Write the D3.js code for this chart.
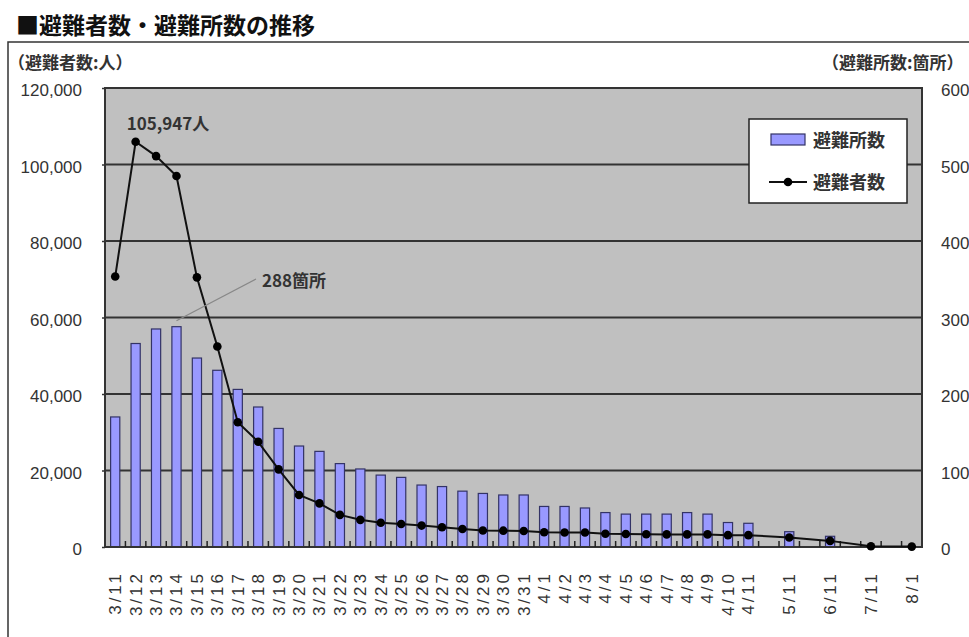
<!DOCTYPE html>
<html lang="ja">
<head>
<meta charset="UTF-8">
<title>避難者数・避難所数の推移</title>
<script src="https://d3js.org/d3.v7.min.js"></script>
<style>
    body { margin: 0; padding: 0; background: #fff; }
    svg { display: block; }
    text { font-family: "Liberation Sans", "Noto Sans CJK JP", sans-serif; fill: #222; }
    .jp { font-family: "Noto Sans CJK JP", sans-serif; }
</style>
</head>
<body>
<svg id="chart" width="969" height="637"></svg>
<script>
    // categories ("" = empty slot on the axis)
    const dates = ["3/11", "3/12", "3/13", "3/14", "3/15", "3/16", "3/17", "3/18", "3/19", "3/20",
        "3/21", "3/22", "3/23", "3/24", "3/25", "3/26", "3/27", "3/28", "3/29", "3/30", "3/31",
        "4/1", "4/2", "4/3", "4/4", "4/5", "4/6", "4/7", "4/8", "4/9", "4/10", "4/11",
        "", "5/11", "", "6/11", "", "7/11", "", "8/1"];

    // 避難所数 (箇所)
    const shelters = [170, 266, 285, 288, 247, 231, 206, 183, 155, 132,
        125, 109, 102, 94, 91, 81, 79, 73, 70, 68, 68,
        53, 53, 51, 45, 43, 43, 43, 45, 43, 32, 31,
        null, 20, null, 14, null, 0, null, 0];

    // 避難者数 (人)
    const evacuees = [70700, 105947, 102200, 97000, 70500, 52400, 32600, 27500, 20300, 13600,
        11400, 8400, 7100, 6350, 6000, 5600, 5150, 4700, 4300, 4270, 4200,
        3850, 3800, 3800, 3450, 3400, 3350, 3300, 3300, 3300, 3100, 3100,
        null, 2500, null, 1600, null, 200, null, 100];

    const leftTicks = [0, 20000, 40000, 60000, 80000, 100000, 120000];
    const rightTicks = [0, 100, 200, 300, 400, 500, 600];

    const svg = d3.select("#chart");
    const plotL = 105, plotR = 922, plotT = 88, plotB = 547;

    const x = d3.scaleBand().domain(d3.range(dates.length)).range([plotL, plotR]).padding(0);
    const yL = d3.scaleLinear().domain([0, 120000]).range([plotB, plotT]);
    const yR = d3.scaleLinear().domain([0, 600]).range([plotB, plotT]);
    const cx = i => x(i) + x.bandwidth() / 2;

    // title
    svg.append("text").attr("class", "jp")
        .attr("x", 16).attr("y", 34)
        .attr("font-size", 23).attr("font-weight", "bold").style("fill", "#111")
        .text("■避難者数・避難所数の推移");

    // outer frame (open on right / bottom)
    svg.append("path")
        .attr("d", "M8,637 V42 H969")
        .attr("fill", "none").attr("stroke", "#333").attr("stroke-width", 1.5);

    // axis titles
    svg.append("text").attr("class", "jp")
        .attr("x", 8).attr("y", 69).attr("font-size", 17).attr("font-weight", "bold")
        .style("fill", "#333")
        .text("（避難者数:人）");
    svg.append("text").attr("class", "jp")
        .attr("x", 822).attr("y", 69).attr("font-size", 17).attr("font-weight", "bold")
        .style("fill", "#333")
        .text("（避難所数:箇所）");

    // plot background
    svg.append("rect")
        .attr("x", plotL).attr("y", plotT)
        .attr("width", plotR - plotL).attr("height", plotB - plotT)
        .attr("fill", "#c0c0c0");

    // gridlines
    svg.append("g").selectAll("line")
        .data(leftTicks.slice(1))
        .join("line")
        .attr("x1", plotL).attr("x2", plotR)
        .attr("y1", d => yL(d)).attr("y2", d => yL(d))
        .attr("stroke", "#333").attr("stroke-width", 2);

    // bars
    const barW = x.bandwidth() * 0.45;
    svg.append("g").selectAll("rect")
        .data(shelters.map((v, i) => ({ i, v })).filter(d => d.v !== null && d.v > 0))
        .join("rect")
        .attr("x", d => cx(d.i) - barW / 2)
        .attr("y", d => yR(d.v))
        .attr("width", barW)
        .attr("height", d => plotB - yR(d.v))
        .attr("fill", "#9999ff")
        .attr("stroke", "#333366").attr("stroke-width", 1.2);

    // plot border
    svg.append("rect")
        .attr("x", plotL).attr("y", plotT)
        .attr("width", plotR - plotL).attr("height", plotB - plotT)
        .attr("fill", "none").attr("stroke", "#333").attr("stroke-width", 2);

    // x axis labels
    const xAxis = d3.axisBottom(x).tickSizeInner(0).tickSizeOuter(0).tickFormat(i => dates[i]);
    const gx = svg.append("g").attr("transform", `translate(0,${plotB})`).call(xAxis);
    gx.select(".domain").remove();
    gx.selectAll("text")
        .attr("transform", "rotate(-90)")
        .attr("x", -24).attr("y", 0)
        .attr("dy", "0.35em")
        .attr("text-anchor", "end")
        .attr("font-size", 17)
        .attr("letter-spacing", 3)
        .style("fill", "#333");

    // x ticks between categories, pointing up
    svg.append("g").selectAll("line")
        .data(d3.range(1, dates.length))
        .join("line")
        .attr("x1", i => x(i)).attr("x2", i => x(i))
        .attr("y1", plotB).attr("y2", plotB - 6)
        .attr("stroke", "#222").attr("stroke-width", 1.5);

    // left axis
    const gl = svg.append("g").attr("transform", `translate(${plotL},0)`)
        .call(d3.axisLeft(yL).tickValues(leftTicks).tickSize(3).tickPadding(20).tickFormat(d3.format(",")));
    gl.select(".domain").remove();
    gl.selectAll("line").attr("stroke", "#333").attr("stroke-width", 1.5);
    gl.selectAll("text").attr("font-size", 17).attr("dy", "0.45em").style("fill", "#333");

    // right axis
    const gr = svg.append("g").attr("transform", `translate(${plotR + 16},0)`)
        .call(d3.axisRight(yR).tickValues(rightTicks).tickSize(0));
    gr.select(".domain").remove();
    gr.selectAll("text").attr("font-size", 17).attr("dy", "0.45em").style("fill", "#333");

    // line of evacuees
    const pts = evacuees.map((v, i) => ({ i, v })).filter(d => d.v !== null);
    const line = d3.line()
        .x(d => cx(d.i))
        .y(d => yL(d.v));
    svg.append("path")
        .datum(pts)
        .attr("d", line)
        .attr("fill", "none").attr("stroke", "#111").attr("stroke-width", 2);
    svg.append("g").selectAll("circle")
        .data(pts)
        .join("circle")
        .attr("cx", d => cx(d.i))
        .attr("cy", d => yL(d.v))
        .attr("r", 4.3)
        .attr("fill", "#000");

    // annotations
    const peak = evacuees.indexOf(d3.max(evacuees));
    svg.append("text").attr("class", "jp")
        .attr("x", cx(peak) - 9).attr("y", yL(evacuees[peak]) - 12)
        .attr("font-size", 17).attr("font-weight", "bold").style("fill", "#333")
        .text(d3.format(",")(evacuees[peak]) + "人");

    const maxS = shelters.indexOf(d3.max(shelters));
    svg.append("line")
        .attr("x1", cx(maxS)).attr("y1", yR(shelters[maxS]) - 6)
        .attr("x2", 256).attr("y2", 279)
        .attr("stroke", "#888").attr("stroke-width", 1.2);
    svg.append("text").attr("class", "jp")
        .attr("x", 262).attr("y", 287)
        .attr("font-size", 17).attr("font-weight", "bold").style("fill", "#333")
        .text(shelters[maxS] + "箇所");

    // legend
    const lg = svg.append("g").attr("transform", "translate(749,119)");
    lg.append("rect").attr("width", 158).attr("height", 84)
        .attr("fill", "#fff").attr("stroke", "#222").attr("stroke-width", 1.5);
    lg.append("rect").attr("x", 22).attr("y", 15).attr("width", 34).attr("height", 11)
        .attr("fill", "#9999ff").attr("stroke", "#333366").attr("stroke-width", 1.2);
    lg.append("text").attr("class", "jp").attr("x", 64).attr("y", 28)
        .attr("font-size", 18).attr("font-weight", "bold").style("fill", "#333").text("避難所数");
    lg.append("line").attr("x1", 20).attr("x2", 58).attr("y1", 63).attr("y2", 63)
        .attr("stroke", "#111").attr("stroke-width", 2);
    lg.append("circle").attr("cx", 39).attr("cy", 63).attr("r", 4.3).attr("fill", "#000");
    lg.append("text").attr("class", "jp").attr("x", 64).attr("y", 70)
        .attr("font-size", 18).attr("font-weight", "bold").style("fill", "#333").text("避難者数");
</script>
</body>
</html>
